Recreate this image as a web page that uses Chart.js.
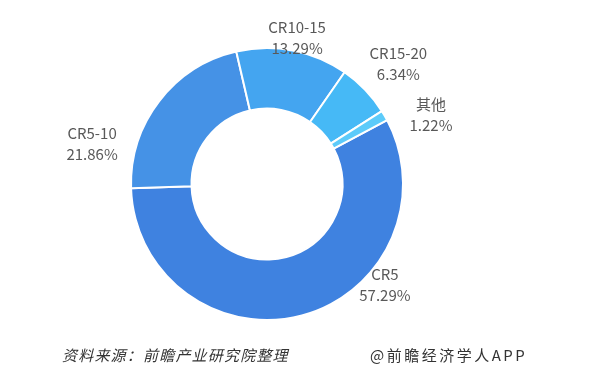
<!DOCTYPE html>
<html>
<head>
<meta charset="utf-8">
<script src="https://cdn.jsdelivr.net/npm/chart.js@4.4.1/dist/chart.umd.min.js"></script>
<style>
    html, body { margin: 0; padding: 0; background: #fff; }
    #wrap { position: relative; width: 589px; height: 382px; overflow: hidden; }
    #chart { position: absolute; left: 0; top: 0; }
    .nota { position: absolute; top: 344px; font-size: 15px; color: #333; white-space: nowrap;
            font-family: "Noto Sans CJK SC", "DejaVu Sans", sans-serif; }
    #fuente { left: 62px; font-style: italic; letter-spacing: 1.2px; }
    #marca { left: 370px; letter-spacing: 2.5px; }
</style>
</head>
<body>
<div id="wrap">
    <canvas id="chart" width="589" height="382"></canvas>
    <div class="nota" id="fuente">资料来源：前瞻产业研究院整理</div>
    <div class="nota" id="marca">@前瞻经济学人APP</div>
</div>
<script>
// Datos del gráfico
const categorias = ['CR5', 'CR5-10', 'CR10-15', 'CR15-20', '其他'];
const porcentajes = [57.29, 21.86, 13.29, 6.34, 1.22];
const colores = ['#3f82e0', '#4592e6', '#44a5f0', '#46b9f6', '#5ccbfa'];

// Posición de cada etiqueta: ángulo (grados desde arriba) y distancia relativa al radio exterior
const ubicacionEtiquetas = [
    { angulo: 130.5, factor: 1.14 },
    { angulo: 283, factor: 1.32 },
    { angulo: 11.6, factor: 1.10 },
    { angulo: 47.5, factor: 1.31 },
    { angulo: 67, factor: 1.31 }
];

const etiquetasPlugin = {
    id: 'etiquetas',
    afterDraw(chart) {
        const ctx = chart.ctx;
        const arcos = chart.getDatasetMeta(0).data;
        ctx.save();
        ctx.fillStyle = '#595959';
        ctx.font = '15px "Noto Sans CJK SC", "Liberation Sans", sans-serif';
        ctx.textAlign = 'center';
        ctx.textBaseline = 'middle';
        arcos.forEach((arco, i) => {
            const u = ubicacionEtiquetas[i];
            const a = u.angulo * Math.PI / 180;
            const r = arco.outerRadius * u.factor;
            const x = arco.x + r * Math.sin(a);
            const y = arco.y - r * Math.cos(a);
            ctx.fillText(categorias[i], x, y - 10.5);
            ctx.fillText(porcentajes[i].toFixed(2) + '%', x, y + 11);
        });
        ctx.restore();
    }
};

new Chart(document.getElementById('chart').getContext('2d'), {
    type: 'doughnut',
    data: {
        labels: categorias,
        datasets: [{
            data: porcentajes,
            backgroundColor: colores,
            borderColor: '#ffffff',
            borderWidth: 2
        }]
    },
    options: {
        responsive: false,
        animation: false,
        rotation: 62,
        cutout: '55.5%',
        layout: {
            padding: { left: 130, right: 185, top: 47, bottom: 61 }
        },
        plugins: {
            legend: { display: false },
            tooltip: { enabled: false }
        }
    },
    plugins: [etiquetasPlugin]
});
</script>
</body>
</html>
